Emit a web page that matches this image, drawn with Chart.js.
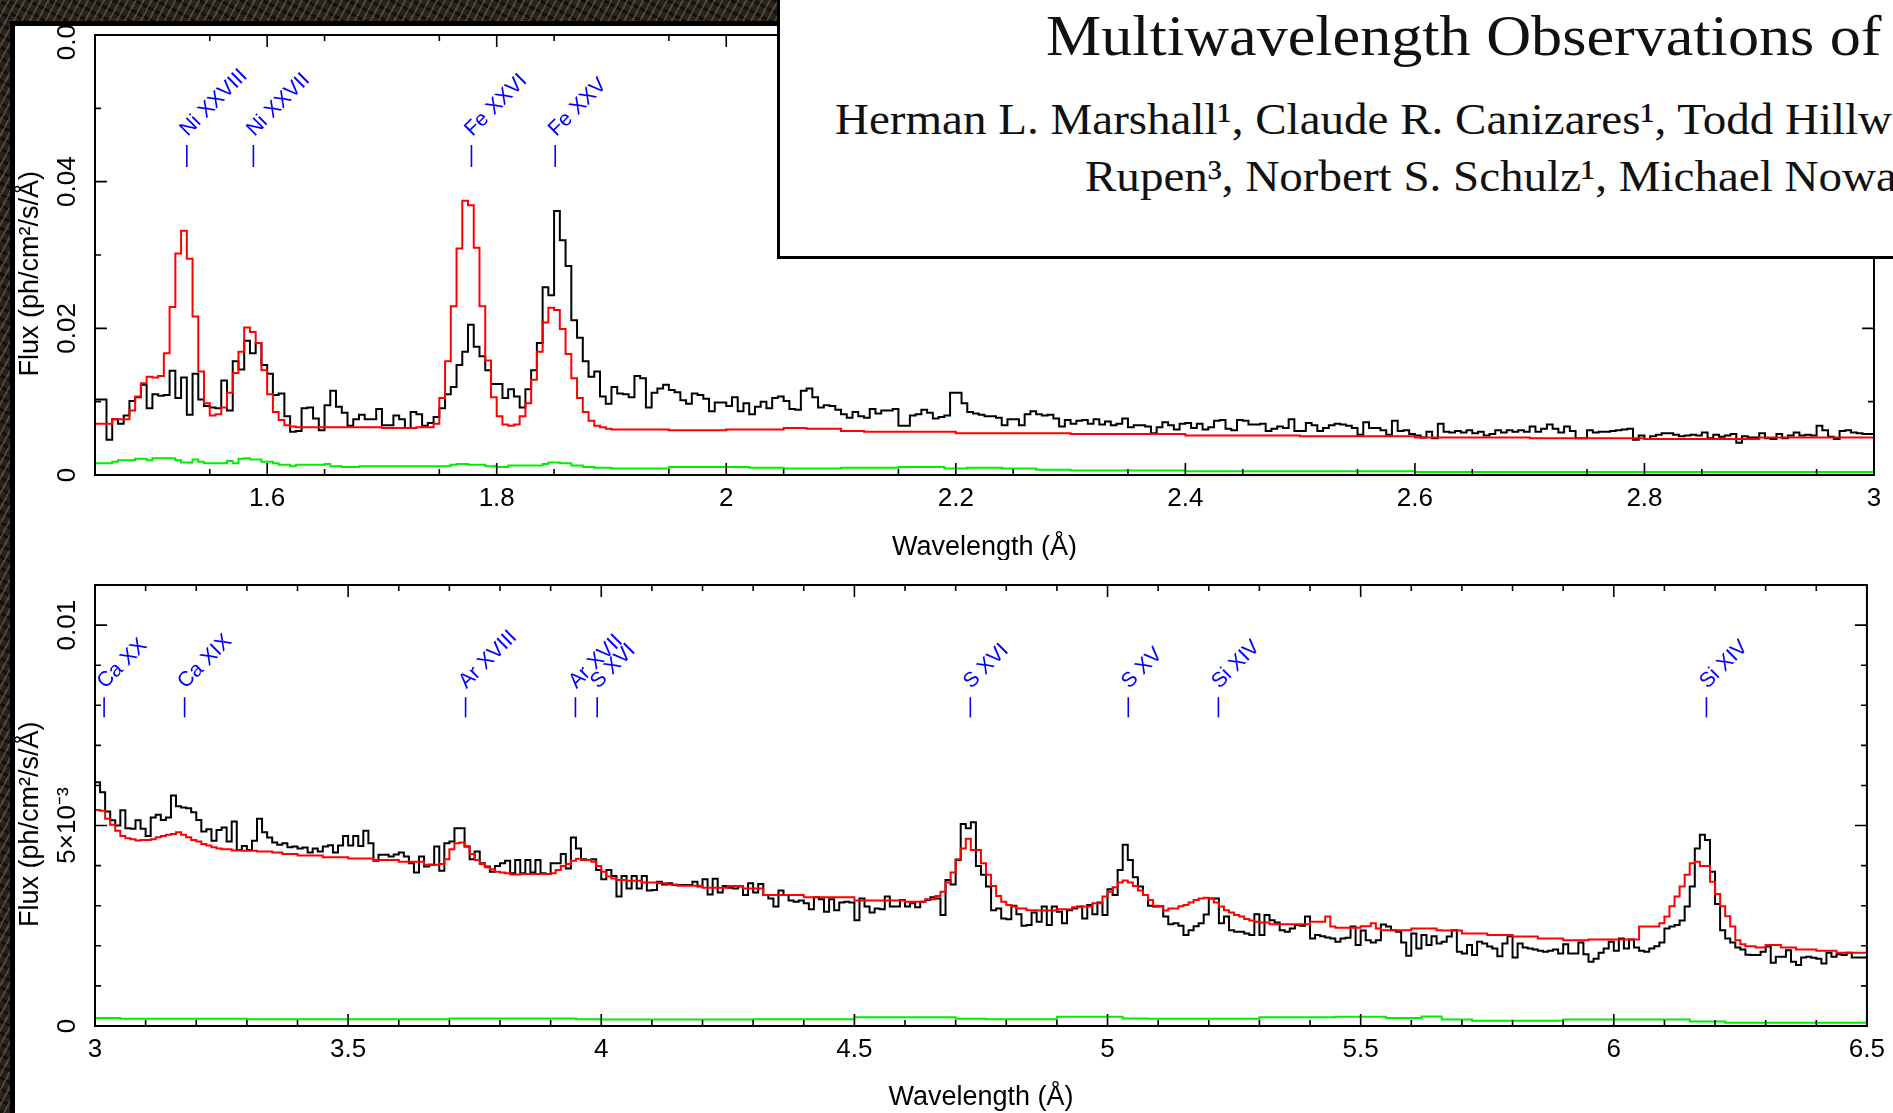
<!DOCTYPE html>
<html>
<head>
<meta charset="utf-8">
<script src="https://cdn.jsdelivr.net/npm/chart.js@4.4.1/dist/chart.umd.min.js"></script>
<style>
html,body{margin:0;padding:0;width:1893px;height:1113px;overflow:hidden;background:#fff;}
canvas{position:absolute;left:0;}
#cTop{top:0;}
#cBot{top:560px;}
.tex{position:absolute;background-color:#27221b;
 background-image:repeating-linear-gradient(118deg,rgba(130,115,90,.45) 0 2px,transparent 2px 7px),
 repeating-linear-gradient(28deg,rgba(0,0,0,.55) 0 3px,transparent 3px 10px);}
.band{position:absolute;background:#000;}
#box{position:absolute;left:777px;top:-6px;width:1200px;height:259px;border:3px solid #000;background:#fff;overflow:hidden;}
.tl{position:absolute;white-space:nowrap;font-family:"Liberation Serif","Times New Roman",serif;color:#111;transform-origin:0 0;line-height:1;}
</style>
</head>
<body>
<canvas id="cTop" width="1893" height="560"></canvas>
<canvas id="cBot" width="1893" height="553"></canvas>
<div class="tex" style="left:0;top:0;width:1893px;height:21px"></div>
<div class="tex" style="left:0;top:0;width:10px;height:1113px"></div>
<div class="band" style="left:10px;top:21px;width:1883px;height:5px"></div>
<div class="band" style="left:10px;top:21px;width:5px;height:1092px"></div>
<div id="box">
  <div class="tl" style="left:266px;top:11px;font-size:56px;transform:scaleX(1.11)">Multiwavelength Observations of</div>
  <div class="tl" style="left:55px;top:100px;font-size:45px;transform:scaleX(1.045)">Herman L. Marshall¹, Claude R. Canizares¹, Todd Hillw</div>
  <div class="tl" style="left:305px;top:157px;font-size:45px;transform:scaleX(1.045)">Rupen³, Norbert S. Schulz¹, Michael Nowak</div>
</div>
<script>
// ---------------- DATA ----------------
// Top panel: 1.45-3.0 Å, bins of 0.005 Å (black = data)
const topBinStart = 1.45, topBinWidth = 0.005;
const topBlack = [
0.0100,0.0103,0.0103,0.0048,0.0076,0.0070,0.0081,0.0101,0.0106,0.0123,
0.0091,0.0110,0.0108,0.0109,0.0142,0.0105,0.0133,0.0082,0.0138,0.0103,
0.0094,0.0092,0.0091,0.0129,0.0088,0.0155,0.0144,0.0183,0.0166,0.0180,
0.0150,0.0138,0.0109,0.0111,0.0080,0.0059,0.0060,0.0091,0.0092,0.0077,
0.0061,0.0095,0.0115,0.0093,0.0085,0.0067,0.0076,0.0082,0.0076,0.0076,
0.0090,0.0068,0.0068,0.0081,0.0076,0.0064,0.0086,0.0083,0.0067,0.0071,
0.0079,0.0091,0.0110,0.0120,0.0150,0.0168,0.0205,0.0175,0.0162,0.0143,
0.0124,0.0124,0.0105,0.0117,0.0107,0.0092,0.0117,0.0143,0.0180,0.0256,
0.0245,0.0360,0.0320,0.0285,0.0211,0.0187,0.0155,0.0134,0.0141,0.0107,
0.0097,0.0120,0.0111,0.0110,0.0106,0.0135,0.0132,0.0092,0.0112,0.0118,
0.0123,0.0116,0.0113,0.0102,0.0097,0.0111,0.0109,0.0104,0.0087,0.0099,
0.0099,0.0094,0.0106,0.0087,0.0098,0.0083,0.0093,0.0100,0.0091,0.0105,
0.0107,0.0101,0.0090,0.0089,0.0115,0.0118,0.0106,0.0092,0.0095,0.0094,
0.0089,0.0083,0.0078,0.0086,0.0080,0.0078,0.0090,0.0084,0.0088,0.0088,
0.0090,0.0067,0.0067,0.0081,0.0083,0.0089,0.0085,0.0077,0.0079,0.0081,
0.0112,0.0112,0.0098,0.0086,0.0084,0.0082,0.0080,0.0080,0.0078,0.0068,
0.0076,0.0076,0.0068,0.0083,0.0087,0.0083,0.0081,0.0082,0.0077,0.0066,
0.0075,0.0070,0.0074,0.0075,0.0070,0.0076,0.0069,0.0073,0.0068,0.0070,
0.0077,0.0065,0.0068,0.0068,0.0066,0.0057,0.0065,0.0072,0.0068,0.0062,
0.0070,0.0071,0.0064,0.0070,0.0062,0.0065,0.0074,0.0075,0.0063,0.0061,
0.0075,0.0074,0.0069,0.0069,0.0070,0.0060,0.0063,0.0066,0.0064,0.0076,
0.0060,0.0060,0.0071,0.0068,0.0060,0.0064,0.0068,0.0070,0.0069,0.0067,
0.0064,0.0055,0.0072,0.0064,0.0064,0.0061,0.0055,0.0074,0.0060,0.0061,
0.0056,0.0054,0.0051,0.0059,0.0050,0.0070,0.0059,0.0058,0.0060,0.0058,
0.0061,0.0057,0.0059,0.0054,0.0056,0.0061,0.0058,0.0061,0.0059,0.0061,
0.0059,0.0066,0.0059,0.0063,0.0069,0.0063,0.0058,0.0066,0.0060,0.0050,
0.0050,0.0061,0.0058,0.0059,0.0059,0.0060,0.0061,0.0062,0.0063,0.0048,
0.0054,0.0049,0.0053,0.0055,0.0057,0.0057,0.0055,0.0053,0.0054,0.0055,
0.0054,0.0058,0.0050,0.0055,0.0052,0.0054,0.0056,0.0044,0.0053,0.0051,
0.0051,0.0057,0.0050,0.0049,0.0056,0.0050,0.0054,0.0058,0.0054,0.0055,
0.0054,0.0067,0.0061,0.0052,0.0049,0.0060,0.0061,0.0058,0.0057,0.0056
];
// Top panel model (red): step start wavelengths and values
const topRedWave = [1.450,1.465,1.480,1.485,1.490,1.495,1.500,1.505,1.510,1.515,1.520,1.525,1.530,1.535,1.540,1.545,
1.550,1.555,1.560,1.565,1.570,1.575,1.580,1.585,1.590,1.595,1.600,1.605,1.610,1.615,1.620,1.625,1.650,1.700,1.730,1.745,
1.750,1.755,1.760,1.765,1.770,1.775,1.780,1.785,1.790,1.795,1.800,1.805,1.810,1.815,1.820,1.825,1.830,1.835,1.840,1.845,
1.850,1.855,1.860,1.865,1.870,1.875,1.880,1.885,1.890,1.895,1.900,1.950,2.000,2.050,2.070,2.100,2.120,2.200,2.300,2.400,
2.500,2.600,2.700,2.800,2.900,2.985];
const topRedFlux = [0.0071,0.0070,0.0076,0.0088,0.0107,0.0125,0.0134,0.0133,0.0135,0.0166,0.0229,0.0302,0.0333,0.0295,0.0216,0.0141,
0.0098,0.0081,0.0083,0.0092,0.0112,0.0139,0.0168,0.0201,0.0195,0.0180,0.0143,0.0110,0.0086,0.0075,0.0068,0.0066,0.0065,0.0065,0.0064,0.0065,
0.0070,0.0105,0.0155,0.0230,0.0309,0.0374,0.0368,0.0310,0.0230,0.0156,0.0106,0.0080,0.0069,0.0067,0.0069,0.0080,0.0098,0.0130,0.0168,0.0208,
0.0228,0.0225,0.0199,0.0165,0.0132,0.0105,0.0086,0.0074,0.0067,0.0065,0.0063,0.0062,0.0061,0.0062,0.0064,0.0063,0.0060,0.0059,0.0057,0.0056,
0.0054,0.0053,0.0051,0.0050,0.0049,0.0051];
// Top panel error (green)
const topGreenWave = [1.450,1.465,1.470,1.485,1.495,1.500,1.520,1.525,1.535,1.540,1.545,1.565,1.570,1.575,1.580,1.585,1.595,1.605,1.610,
1.620,1.625,1.650,1.655,1.665,1.680,1.760,1.765,1.775,1.790,1.800,1.810,1.840,1.845,1.855,1.865,1.875,1.885,1.900,1.950,2.020,
2.050,2.100,2.150,2.190,2.210,2.240,2.270,2.300,2.400,2.600,2.900];
const topGreenFlux = [0.0021,0.0016,0.0018,0.0020,0.0022,0.0020,0.0023,0.0020,0.0017,0.0021,0.0018,0.0016,0.0019,0.0016,0.0022,0.0023,0.0021,0.0018,0.0016,
0.0014,0.0012,0.0014,0.0015,0.0012,0.0011,0.0012,0.0014,0.0015,0.0014,0.0012,0.0011,0.0013,0.0015,0.0017,0.0016,0.0013,0.0011,0.0010,0.0009,0.0011,
0.0010,0.0009,0.0010,0.0011,0.0009,0.0010,0.0009,0.0007,0.0006,0.0005,0.0004];

// Bottom panel: 3.0-6.5 Å, bins of 0.01 Å
const botBinStart = 3.0, botBinWidth = 0.01;
const botBlack = [
0.00567,0.00608,0.00583,0.00535,0.00513,0.00500,0.00538,0.00493,0.00492,0.00513,
0.00492,0.00474,0.00520,0.00527,0.00514,0.00520,0.00575,0.00548,0.00545,0.00543,
0.00533,0.00514,0.00485,0.00491,0.00462,0.00489,0.00495,0.00460,0.00510,0.00439,
0.00449,0.00439,0.00462,0.00517,0.00483,0.00470,0.00458,0.00452,0.00456,0.00446,
0.00448,0.00443,0.00445,0.00433,0.00443,0.00435,0.00448,0.00451,0.00433,0.00450,
0.00474,0.00450,0.00474,0.00449,0.00487,0.00456,0.00412,0.00427,0.00427,0.00423,
0.00428,0.00433,0.00423,0.00406,0.00383,0.00423,0.00398,0.00402,0.00448,0.00387,
0.00456,0.00460,0.00493,0.00493,0.00448,0.00416,0.00435,0.00406,0.00398,0.00385,
0.00399,0.00406,0.00412,0.00381,0.00414,0.00381,0.00414,0.00383,0.00414,0.00381,
0.00379,0.00406,0.00406,0.00429,0.00393,0.00470,0.00443,0.00416,0.00414,0.00416,
0.00389,0.00366,0.00389,0.00374,0.00323,0.00374,0.00343,0.00374,0.00343,0.00374,
0.00338,0.00339,0.00360,0.00353,0.00356,0.00352,0.00352,0.00352,0.00352,0.00360,
0.00348,0.00366,0.00328,0.00367,0.00333,0.00349,0.00345,0.00343,0.00348,0.00327,
0.00356,0.00333,0.00354,0.00327,0.00318,0.00298,0.00338,0.00327,0.00313,0.00310,
0.00313,0.00306,0.00291,0.00321,0.00316,0.00285,0.00316,0.00289,0.00308,0.00310,
0.00308,0.00264,0.00318,0.00298,0.00283,0.00293,0.00291,0.00323,0.00298,0.00298,
0.00314,0.00298,0.00306,0.00296,0.00310,0.00314,0.00321,0.00318,0.00277,0.00364,
0.00353,0.00414,0.00504,0.00493,0.00508,0.00399,0.00377,0.00348,0.00289,0.00293,
0.00268,0.00266,0.00300,0.00279,0.00250,0.00252,0.00283,0.00260,0.00298,0.00252,
0.00298,0.00285,0.00256,0.00289,0.00293,0.00298,0.00268,0.00302,0.00279,0.00308,
0.00277,0.00341,0.00327,0.00389,0.00452,0.00414,0.00371,0.00348,0.00327,0.00300,
0.00298,0.00299,0.00273,0.00254,0.00256,0.00250,0.00227,0.00239,0.00249,0.00256,
0.00278,0.00318,0.00318,0.00256,0.00273,0.00239,0.00235,0.00235,0.00231,0.00227,
0.00279,0.00227,0.00277,0.00264,0.00258,0.00239,0.00235,0.00243,0.00252,0.00250,
0.00273,0.00218,0.00227,0.00224,0.00221,0.00218,0.00210,0.00218,0.00220,0.00248,
0.00202,0.00238,0.00214,0.00208,0.00214,0.00253,0.00248,0.00239,0.00235,0.00208,
0.00175,0.00231,0.00193,0.00227,0.00202,0.00224,0.00206,0.00210,0.00223,0.00239,
0.00185,0.00181,0.00202,0.00177,0.00210,0.00206,0.00198,0.00193,0.00174,0.00206,
0.00224,0.00171,0.00206,0.00196,0.00193,0.00191,0.00188,0.00185,0.00188,0.00191,
0.00181,0.00204,0.00181,0.00181,0.00208,0.00179,0.00160,0.00168,0.00183,0.00193,
0.00210,0.00188,0.00218,0.00193,0.00216,0.00196,0.00188,0.00185,0.00193,0.00199,
0.00208,0.00243,0.00248,0.00252,0.00263,0.00298,0.00348,0.00443,0.00477,0.00464,
0.00385,0.00304,0.00239,0.00218,0.00208,0.00196,0.00191,0.00178,0.00177,0.00177,
0.00185,0.00198,0.00158,0.00173,0.00173,0.00189,0.00160,0.00152,0.00171,0.00173,
0.00170,0.00168,0.00156,0.00183,0.00173,0.00179,0.00177,0.00183,0.00171,0.00171
];
const botRedWave = [3.00,3.01,3.02,3.03,3.04,3.05,3.06,3.07,3.08,3.09,3.11,3.12,3.13,3.14,3.15,3.16,3.17,3.18,3.19,3.20,
3.21,3.22,3.23,3.24,3.25,3.27,3.29,3.32,3.35,3.37,3.40,3.45,3.50,3.55,3.60,3.65,3.68,3.69,3.70,3.71,3.72,3.73,3.74,3.75,
3.76,3.77,3.78,3.79,3.80,3.81,3.82,3.84,3.90,3.91,3.92,3.93,3.94,3.95,3.96,3.98,3.99,4.00,4.01,4.02,4.03,4.05,4.08,4.11,
4.13,4.15,4.20,4.25,4.28,4.32,4.40,4.50,4.60,4.64,4.66,4.67,4.68,4.69,4.70,4.71,4.72,4.73,4.75,4.76,4.77,4.78,4.79,4.80,
4.81,4.82,4.84,4.86,4.90,4.93,4.95,4.97,4.99,5.00,5.01,5.02,5.03,5.04,5.05,5.06,5.07,5.08,5.09,5.10,5.11,5.12,5.14,5.15,
5.16,5.17,5.18,5.19,5.20,5.21,5.22,5.23,5.24,5.25,5.26,5.27,5.28,5.29,5.30,5.32,5.40,5.43,5.44,5.45,5.50,5.52,5.53,5.54,
5.60,5.65,5.66,5.70,5.75,5.80,5.85,5.90,5.95,6.05,6.09,6.10,6.11,6.12,6.13,6.14,6.15,6.16,6.17,6.19,6.20,6.21,6.22,6.23,
6.24,6.25,6.26,6.28,6.30,6.33,6.36,6.40,6.44,6.47];
const botRedFlux = [0.00523,0.00539,0.00537,0.00517,0.00502,0.00487,0.00474,0.00468,0.00466,0.00463,0.00464,0.00466,0.00471,0.00474,0.00477,0.00479,0.00483,0.00477,0.00471,0.00464,
0.00460,0.00454,0.00450,0.00446,0.00443,0.00441,0.00438,0.00437,0.00435,0.00433,0.00429,0.00425,0.00421,0.00418,0.00414,0.00410,0.00402,0.00404,0.00416,0.00441,0.00456,0.00458,0.00448,0.00429,
0.00414,0.00404,0.00396,0.00391,0.00385,0.00383,0.00381,0.00378,0.00379,0.00381,0.00389,0.00399,0.00404,0.00412,0.00417,0.00414,0.00410,0.00399,0.00385,0.00373,0.00368,0.00364,0.00362,0.00358,
0.00356,0.00353,0.00350,0.00345,0.00349,0.00343,0.00327,0.00321,0.00313,0.00310,0.00316,0.00324,0.00335,0.00358,0.00383,0.00416,0.00443,0.00467,0.00439,0.00406,0.00377,0.00349,0.00324,0.00310,
0.00302,0.00298,0.00293,0.00289,0.00288,0.00291,0.00296,0.00298,0.00306,0.00323,0.00335,0.00346,0.00358,0.00363,0.00358,0.00349,0.00338,0.00327,0.00314,0.00300,0.00298,0.00288,0.00293,0.00299,
0.00302,0.00308,0.00314,0.00318,0.00320,0.00318,0.00308,0.00298,0.00289,0.00283,0.00277,0.00273,0.00267,0.00263,0.00260,0.00258,0.00254,0.00260,0.00273,0.00248,0.00245,0.00249,0.00256,0.00243,
0.00239,0.00243,0.00239,0.00238,0.00231,0.00227,0.00223,0.00218,0.00214,0.00216,0.00248,0.00256,0.00273,0.00299,0.00323,0.00348,0.00377,0.00406,0.00410,0.00399,0.00360,0.00329,0.00299,0.00274,
0.00248,0.00214,0.00204,0.00199,0.00196,0.00202,0.00196,0.00191,0.00188,0.00183];
const botGreenWave = [3.00,3.05,3.30,3.70,3.95,4.00,4.30,4.50,4.70,4.76,4.90,5.03,5.08,5.30,5.45,5.55,5.62,5.66,5.72,5.90,6.15,6.22,6.35];
const botGreenFlux = [0.00022,0.00020,0.00018,0.00017,0.00019,0.00017,0.00016,0.00017,0.00022,0.00018,0.00017,0.00023,0.00019,0.00018,0.00022,0.00023,0.00020,0.00024,0.00016,0.00013,0.00016,0.00011,0.00008];

// Tick labels
const topXTicks = [1.6,1.8,2,2.2,2.4,2.6,2.8,3];
const topXLabels = ['1.6','1.8','2','2.2','2.4','2.6','2.8','3'];
const topYTicks = [0,0.02,0.04,0.06];
const topYLabels = ['0','0.02','0.04','0.06'];
const botXTicks = [3,3.5,4,4.5,5,5.5,6,6.5];
const botXLabels = ['3','3.5','4','4.5','5','5.5','6','6.5'];
const botYTicks = [0,0.005,0.01];
const botYLabels = ['0','5×10⁻³','0.01'];

// Line identifications
const topLineNames = ['Ni XXVIII','Ni XXVII','Fe XXVI','Fe XXV'];
const topLineWaves = [1.530,1.588,1.778,1.851];
const botLineNames = ['Ca XX','Ca XIX','Ar XVIII','Ar XVII','S XVI','S XVI','S XV','Si XIV','Si XIV'];
const botLineWaves = [3.018,3.177,3.732,3.949,3.992,4.729,5.041,5.219,6.183];

// ---------------- RENDER ----------------
const FAMILY = "'Liberation Sans', Arial, Helvetica, sans-serif";
const TICK_FONT = {family: FAMILY, size: 26};
const TITLE_FONT = {family: FAMILY, size: 27};
const AREA_LEFT = 95, AREA_RIGHT = 1874, YLABEL_CENTER = 68.3;

function histPoints(start, width, vals) {
  const pts = vals.map((v, i) => ({x: +(start + i * width).toFixed(4), y: v}));
  pts.push({x: +(start + vals.length * width).toFixed(4), y: vals[vals.length - 1]});
  return pts;
}
function stepPoints(xs, ys, end) {
  const pts = xs.map((x, i) => ({x: x, y: ys[i]}));
  pts.push({x: end, y: ys[ys.length - 1]});
  return pts;
}
function grid(min, max, step) {
  const out = []; const n = Math.round((max - min) / step);
  for (let i = 0; i <= n; i++) out.push(+(min + i * step).toFixed(6));
  return out;
}
function measure(text, font) {
  const c = document.createElement('canvas').getContext('2d');
  c.font = font.size + 'px ' + font.family;
  return c.measureText(text).width;
}

function framePlugin(cfg) {
  return {
    id: 'frame',
    afterDatasetsDraw(chart) {
      const {ctx, chartArea: a} = chart;
      const xs = chart.scales.x, ys = chart.scales.y;
      ctx.save();
      ctx.strokeStyle = '#000';
      ctx.lineWidth = 1.6;
      ctx.beginPath();
      const vt = (v, len) => { const p = xs.getPixelForValue(v);
        ctx.moveTo(p, a.bottom); ctx.lineTo(p, a.bottom - len);
        ctx.moveTo(p, a.top); ctx.lineTo(p, a.top + len); };
      const ht = (v, len) => { const p = ys.getPixelForValue(v);
        ctx.moveTo(a.left, p); ctx.lineTo(a.left + len, p);
        ctx.moveTo(a.right, p); ctx.lineTo(a.right - len, p); };
      grid(cfg.xMin, cfg.xMax, cfg.xMinor).forEach(v => vt(v, 6));
      cfg.xTicks.forEach(v => vt(v, 12));
      grid(0, cfg.yMax, cfg.yMinor).forEach(v => ht(v, 6));
      cfg.yTicks.forEach(v => ht(v, 12));
      ctx.stroke();
      ctx.lineWidth = 2;
      ctx.strokeRect(a.left, a.top, a.right - a.left, a.bottom - a.top);
      ctx.restore();
    }
  };
}
function idPlugin(cfg) {
  return {
    id: 'lineIds',
    afterDraw(chart) {
      const {ctx} = chart;
      const xs = chart.scales.x, ys = chart.scales.y;
      const yLo = ys.getPixelForValue(cfg.markLo), yHi = ys.getPixelForValue(cfg.markHi);
      ctx.save();
      ctx.strokeStyle = '#0000ff'; ctx.fillStyle = '#0000ff'; ctx.lineWidth = 1.6;
      ctx.font = '21px ' + FAMILY;
      cfg.waves.forEach((w, i) => {
        const px = xs.getPixelForValue(w);
        ctx.beginPath(); ctx.moveTo(px, yLo); ctx.lineTo(px, yHi); ctx.stroke();
        ctx.save();
        ctx.translate(px + 1, yHi - 8);
        ctx.rotate(-Math.PI / 4);
        ctx.textAlign = 'left'; ctx.textBaseline = 'alphabetic';
        ctx.fillText(cfg.names[i], 0, 0);
        ctx.restore();
      });
      ctx.restore();
    }
  };
}

function makeChart(id, cfg) {
  const widest = Math.max(...cfg.yLabels.map(t => measure(t, TICK_FONT)));
  const yPad = AREA_LEFT - YLABEL_CENTER - widest / 2;
  return new Chart(document.getElementById(id), {
    type: 'line',
    data: {datasets: [
      {data: cfg.red, borderColor: '#ff0000', borderWidth: 2, stepped: 'after', order: 0},
      {data: cfg.black, borderColor: '#000000', borderWidth: 2, stepped: 'after', order: 1},
      {data: cfg.green, borderColor: '#00ee00', borderWidth: 2, stepped: 'after', order: 2}
    ]},
    options: {
      responsive: false, animation: false, devicePixelRatio: 1,
      layout: {padding: {top: cfg.padTop, right: 1893 - AREA_RIGHT, left: 0, bottom: 0}},
      elements: {point: {radius: 0}, line: {tension: 0, borderJoinStyle: 'miter', borderCapStyle: 'butt'}},
      plugins: {legend: {display: false}, tooltip: {enabled: false}},
      scales: {
        x: {
          type: 'linear', min: cfg.xMin, max: cfg.xMax,
          afterBuildTicks: s => { s.ticks = cfg.xTicks.map(v => ({value: v})); },
          afterFit: s => { s.height = cfg.xAxisHeight; },
          grid: {display: false, drawTicks: false}, border: {display: false},
          ticks: {font: TICK_FONT, color: '#000', padding: 8, autoSkip: false, maxRotation: 0, minRotation: 0,
                  callback: (v, i) => cfg.xLabels[i]},
          title: {display: true, text: 'Wavelength (Å)', font: TITLE_FONT, color: '#000',
                  padding: {top: 0, bottom: cfg.xTitlePad}}
        },
        y: {
          type: 'linear', min: 0, max: cfg.yMax,
          afterBuildTicks: s => { s.ticks = cfg.yTicks.map(v => ({value: v})); },
          afterFit: s => { s.width = AREA_LEFT; },
          grid: {display: false, drawTicks: false}, border: {display: false},
          ticks: {font: TICK_FONT, color: '#000', padding: yPad, autoSkip: false, minRotation: 90, maxRotation: 90,
                  crossAlign: 'center', callback: (v, i) => cfg.yLabels[i]},
          title: {display: true, text: 'Flux (ph/cm²/s/Å)' + '\u00a0'.repeat(5), font: TITLE_FONT, color: '#000',
                  padding: {top: 14.5, bottom: 0}}
        }
      }
    },
    plugins: [framePlugin(cfg), idPlugin(cfg)]
  });
}

makeChart('cTop', {
  xMin: 1.45, xMax: 3.0, yMax: 0.06, xMinor: 0.1, yMinor: 0.01,
  xTicks: topXTicks, xLabels: topXLabels, yTicks: topYTicks, yLabels: topYLabels,
  padTop: 35, xAxisHeight: 85, xTitlePad: -4,
  black: histPoints(topBinStart, topBinWidth, topBlack),
  red: stepPoints(topRedWave, topRedFlux, 3.0),
  green: stepPoints(topGreenWave, topGreenFlux, 3.0),
  names: topLineNames, waves: topLineWaves, markLo: 0.042, markHi: 0.045
});
makeChart('cBot', {
  xMin: 3.0, xMax: 6.5, yMax: 0.011, xMinor: 0.1, yMinor: 0.001,
  xTicks: botXTicks, xLabels: botXLabels, yTicks: botYTicks, yLabels: botYLabels,
  padTop: 25, xAxisHeight: 87, xTitlePad: -1,
  black: histPoints(botBinStart, botBinWidth, botBlack),
  red: stepPoints(botRedWave, botRedFlux, 6.5),
  green: stepPoints(botGreenWave, botGreenFlux, 6.5),
  names: botLineNames, waves: botLineWaves, markLo: 0.0077, markHi: 0.0082
});
</script>
</body>
</html>
